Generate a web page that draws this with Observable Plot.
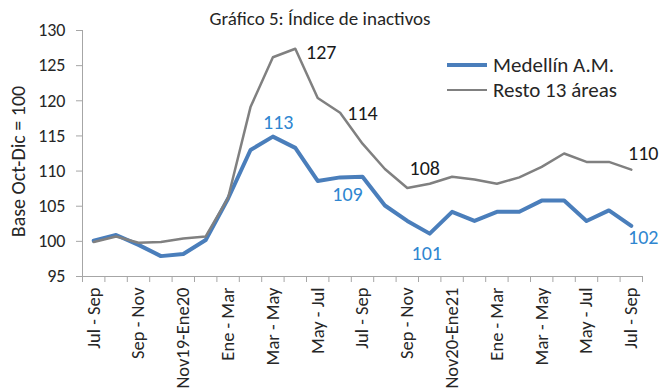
<!DOCTYPE html>
<html>
<head>
<meta charset="utf-8">
<script src="https://cdn.jsdelivr.net/npm/d3@7"></script>
<script src="https://cdn.jsdelivr.net/npm/@observablehq/plot@0.6"></script>
<style>
  body { margin: 0; background: #fff; }
  #chart { position: relative; width: 660px; height: 392px; overflow: hidden; font-family: Carlito, Lato, sans-serif; color: #262626; }
  #chart svg { position: absolute; left: 0; top: 0; }
  #title { position: absolute; left: 0; top: 7px; width: 640px; text-align: center; font-size: 19px; line-height: 24px; z-index: 2; }
  #legend { position: absolute; left: 447px; top: 52px; font-size: 21px; z-index: 2; }
  #legend .row { display: flex; align-items: center; height: 25px; }
  #legend .swatch { width: 40px; margin-right: 6px; }
</style>
</head>
<body>
<div id="chart">
  <div id="title">Gráfico 5: Índice de inactivos</div>
  <div id="legend">
    <div class="row"><span class="swatch" style="border-top:4px solid #4a7ebb"></span>Medellín A.M.</div>
    <div class="row"><span class="swatch" style="border-top:2.5px solid #808080"></span>Resto 13 áreas</div>
  </div>
</div>
<script>
// Rolling three-month periods, Jul-Sep 2019 to Jul-Sep 2021
const periods = ["Jul - Sep", "Ago - Oct", "Sep - Nov", "Oct - Dic", "Nov19-Ene20", "Dic - Feb",
  "Ene - Mar", "Feb - Abr", "Mar - May", "Abr - Jun", "May - Jul", "Jun - Ago", "Jul - Sep",
  "Ago - Oct", "Sep - Nov", "Oct - Dic", "Nov20-Ene21", "Dic - Feb", "Ene - Mar", "Feb - Abr",
  "Mar - May", "Abr - Jun", "May - Jul", "Jun - Ago", "Jul - Sep"];

// Inactive population index (base Oct-Dic = 100)
const medellin = [100.1, 100.9, 99.5, 97.9, 98.2, 100.2, 106.1, 113.0, 114.9, 113.3, 108.6, 109.1, 109.2,
  105.1, 102.9, 101.1, 104.2, 102.9, 104.2, 104.2, 105.8, 105.8, 102.9, 104.4, 102.2];
const resto = [99.9, 100.7, 99.8, 99.9, 100.4, 100.7, 106.2, 119.1, 126.2, 127.4, 120.4, 118.3, 113.9,
  110.3, 107.6, 108.2, 109.2, 108.8, 108.2, 109.1, 110.6, 112.5, 111.3, 111.3, 110.2];

// Quarters whose values are written on the chart
const labeled = [9, 12, 15, 24];
const yTicks = [95, 100, 105, 110, 115, 120, 125, 130];

const idx = d3.range(periods.length);
const font = "Carlito, Lato, sans-serif";
const blue = "#4a7ebb", gray = "#808080", axisGray = "#a6a6a6";

// value label for one point, offset from it by (dx, dy)
function valueLabel(values, i, dx, dy, fill) {
  return Plot.text([i], {
    x: d => d, y: d => values[d], text: d => d3.format(".0f")(values[d]),
    dx, dy, fill, fontSize: 20, fontFamily: font
  });
}

const chart = Plot.plot({
  width: 660,
  height: 392,
  marginLeft: 82,
  marginRight: 18,
  marginTop: 30,
  marginBottom: 116,
  style: {fontFamily: font, fontSize: "17px", color: "#262626", background: "transparent"},
  x: {type: "linear", domain: [-0.5, periods.length - 0.5]},
  y: {domain: [95, 130]},
  marks: [
    Plot.ruleX([-0.5], {stroke: axisGray}),
    Plot.ruleY([95], {stroke: axisGray}),
    Plot.axisY({ticks: yTicks, tickSize: 6, tickPadding: 11, stroke: axisGray, fill: "#262626", fontSize: 18, label: null}),
    Plot.axisX({ticks: d3.range(-0.5, periods.length, 1), tickSize: 6, tickFormat: () => "", stroke: axisGray, label: null}),
    Plot.axisX({ticks: d3.range(0, periods.length, 2), tickSize: 0, tickPadding: 11, tickRotate: -90,
      tickFormat: i => periods[i], fill: "#262626", fontSize: 18.5, label: null}),
    Plot.text(["Base Oct-Dic = 100"], {frameAnchor: "left", textAnchor: "middle", rotate: -90, dx: -64, dy: 8,
      fontSize: 20, fill: "#262626"}),
    Plot.line(idx, {x: d => d, y: d => medellin[d], stroke: blue, strokeWidth: 4}),
    Plot.line(idx, {x: d => d, y: d => resto[d], stroke: gray, strokeWidth: 2.5}),
    valueLabel(resto, labeled[0], 26, 4, "#1a1a1a"),
    valueLabel(resto, labeled[1], 0, -30, "#1a1a1a"),
    valueLabel(resto, labeled[2], -5, -15, "#1a1a1a"),
    valueLabel(resto, labeled[3], 12, -16, "#1a1a1a"),
    valueLabel(medellin, labeled[0], -17, -25, "#2f86d0"),
    valueLabel(medellin, labeled[1], -15, 18, "#2f86d0"),
    valueLabel(medellin, labeled[2], -3, 20, "#2f86d0"),
    valueLabel(medellin, labeled[3], 12, 12, "#2f86d0")
  ]
});

document.getElementById("chart").appendChild(chart);
</script>
</body>
</html>
